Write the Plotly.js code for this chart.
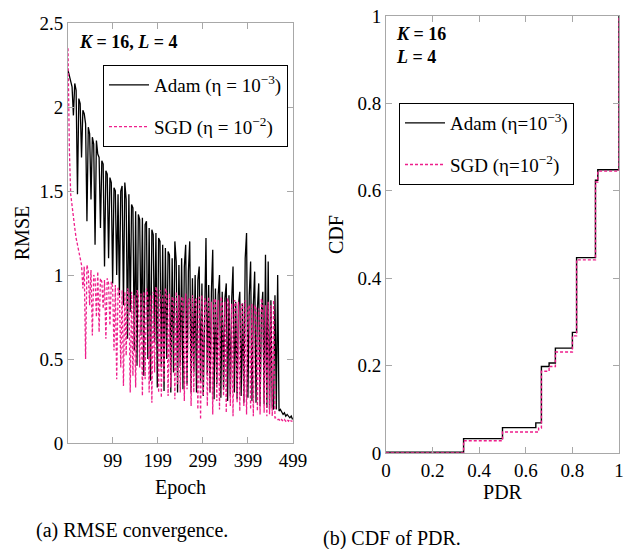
<!DOCTYPE html>
<html><head><meta charset="utf-8">
<script src="https://cdn.plot.ly/plotly-3.0.1.min.js"></script>
<style>html,body{margin:0;padding:0;background:#fff}</style>
</head><body><div id="chart" style="width:632px;height:549px"></div>
<script>
// ---- Data ----
// RMSE sampled every 3 epochs, starting at epoch 0
const epochStart = 0;
const epochStep = 3;
const adamRmse = [
  2.22,2.19,2.16,2.12,1.95,2.14,2.10,1.48,2.05,2.02,
  1.70,1.98,1.96,1.90,1.32,1.88,1.84,1.45,1.82,1.78,
  1.18,1.80,1.72,1.70,1.28,1.68,1.66,1.05,1.62,1.60,
  1.10,1.58,1.55,0.95,1.52,1.50,1.00,1.48,0.88,1.50,
  1.53,0.82,1.55,1.45,0.62,1.48,0.78,1.42,1.40,0.55,
  1.38,0.46,1.36,1.33,0.64,1.34,0.40,1.30,1.32,0.50,
  1.28,0.37,1.27,1.24,0.60,1.25,0.33,1.22,1.20,0.45,
  1.18,0.31,1.16,0.50,1.14,1.12,0.30,1.10,0.42,1.20,
  1.08,0.30,1.06,0.46,1.10,0.32,1.05,1.18,0.35,1.02,
  1.20,0.30,0.98,0.42,1.00,0.30,0.97,1.05,0.36,0.95,
  0.28,0.92,1.22,0.40,0.94,0.30,0.90,1.15,0.26,0.92,
  0.35,0.88,1.00,0.27,0.90,0.32,0.86,0.95,0.25,0.88,
  0.28,0.85,1.05,0.30,0.84,0.26,0.82,0.90,0.28,0.83,
  0.24,1.10,1.25,0.27,0.88,1.08,0.25,0.82,1.02,0.24,
  0.80,0.95,0.22,0.78,0.90,0.23,1.12,0.21,1.08,0.20,
  0.85,0.21,0.20,0.88,0.20,1.00,0.19,0.20,0.18,0.17,
  0.18,0.16,0.17,0.16,0.15,0.16,0.14];
const sgdRmse = [
  2.35,1.75,1.48,1.40,1.33,1.28,1.22,1.18,1.12,1.08,
  1.06,0.92,1.05,0.50,1.06,1.02,0.82,1.03,0.64,1.00,
  0.98,0.75,1.02,0.66,0.98,0.96,0.80,0.97,0.62,0.98,
  0.95,0.70,0.96,0.93,0.55,0.94,0.38,0.92,0.92,0.45,
  0.91,0.34,0.90,0.52,0.92,0.90,0.30,0.90,0.40,0.88,
  0.33,0.91,0.89,0.45,0.89,0.28,0.90,0.38,0.92,0.88,
  0.30,0.88,0.24,0.90,0.42,0.93,0.90,0.30,0.91,0.27,
  0.88,0.36,0.92,0.89,0.28,0.89,0.33,0.87,0.86,0.26,
  0.90,0.35,0.88,0.30,0.87,0.86,0.25,0.89,0.32,0.85,
  0.86,0.22,0.88,0.30,0.85,0.86,0.20,0.87,0.14,0.88,
  0.28,0.86,0.85,0.22,0.87,0.30,0.84,0.17,0.86,0.85,
  0.25,0.85,0.20,0.87,0.84,0.28,0.84,0.18,0.86,0.83,
  0.22,0.83,0.16,0.85,0.84,0.24,0.84,0.19,0.82,0.83,
  0.22,0.85,0.17,0.80,0.82,0.20,0.83,0.16,0.82,0.80,
  0.19,0.80,0.17,0.86,0.82,0.18,0.82,0.16,0.84,0.17,
  0.82,0.16,0.85,0.15,0.15,0.14,0.14,0.13,0.14,0.13,
  0.14,0.13,0.14,0.13,0.14,0.13,0.13];
const epochTicks = [99,199,299,399,499];
const rmseTicks = [0,0.5,1,1.5,2,2.5];

// CDF of PDR (step points)
const adamPdr = [0,0.333,0.5,0.643,0.667,0.70,0.727,0.80,0.818,0.899,0.909,1.0];
const adamCdf = [0.002,0.033,0.058,0.069,0.198,0.206,0.240,0.276,0.447,0.624,0.648,1.0];
const sgdPdr  = [0,0.333,0.5,0.655,0.667,0.70,0.727,0.80,0.818,0.899,0.909,1.0];
const sgdCdf  = [0.0,0.028,0.048,0.057,0.187,0.198,0.231,0.268,0.442,0.620,0.645,1.0];
const pdrTicks = [0,0.2,0.4,0.6,0.8,1];
const cdfTicks = [0,0.2,0.4,0.6,0.8,1];

// ---- Styling ----
const W = 632, H = 549;
const FONT = '"Liberation Serif", "Times New Roman", serif';
const BLACK = '#000000';
const PINK = '#ee1f8c';
const AXC = '#a8a8a8';
const px = v => v / W;
const py = v => 1 - v / H;

const traces = [
  {x0: epochStart, dx: epochStep, y: adamRmse, type: 'scatter', mode: 'lines',
   name: 'Adam (η = 10<sup>−3</sup>)', legend: 'legend', legendgroup: 'a1',
   line: {color: BLACK, width: 1.3}, xaxis: 'x', yaxis: 'y'},
  {x0: epochStart, dx: epochStep, y: sgdRmse, type: 'scatter', mode: 'lines',
   name: 'SGD (η = 10<sup>−2</sup>)', legend: 'legend', legendgroup: 'a2',
   line: {color: PINK, width: 1.3, dash: '3px,2px'}, xaxis: 'x', yaxis: 'y'},
  {x: adamPdr, y: adamCdf, type: 'scatter', mode: 'lines',
   name: 'Adam (η=10<sup>−3</sup>)', legend: 'legend2', legendgroup: 'b1',
   line: {color: BLACK, width: 1.4, shape: 'hv'}, xaxis: 'x2', yaxis: 'y2'},
  {x: sgdPdr, y: sgdCdf, type: 'scatter', mode: 'lines',
   name: 'SGD (η=10<sup>−2</sup>)', legend: 'legend2', legendgroup: 'b2',
   line: {color: PINK, width: 1.4, shape: 'hv', dash: '3px,2px'}, xaxis: 'x2', yaxis: 'y2'}
];

const axisCommon = {
  showline: true, linecolor: AXC, linewidth: 1, mirror: 'allticks',
  ticks: 'inside', ticklen: 6, tickcolor: AXC, tickwidth: 1,
  showgrid: false, zeroline: false, fixedrange: true,
  tickfont: {family: FONT, size: 19, color: '#000'}
};

const legendCommon = {
  xanchor: 'left', yanchor: 'top', bgcolor: '#ffffff',
  bordercolor: '#000000', borderwidth: 1,
  font: {family: FONT, size: 19, color: '#000'},
  traceorder: 'grouped', tracegroupgap: 14, itemwidth: 40
};

const layout = {
  width: W, height: H, margin: {l: 0, r: 0, t: 0, b: 0},
  paper_bgcolor: '#fff', plot_bgcolor: '#fff', showlegend: true,
  font: {family: FONT, size: 19, color: '#000'},
  xaxis: Object.assign({}, axisCommon, {domain: [px(68), px(293)], range: [0, 499],
    tickvals: epochTicks, ticktext: epochTicks.map(String), anchor: 'y',
    title: {text: 'Epoch', font: {family: FONT, size: 20}, standoff: 10}}),
  yaxis: Object.assign({}, axisCommon, {domain: [py(443), py(23)], range: [0, 2.5],
    tickvals: rmseTicks, ticktext: rmseTicks.map(String), anchor: 'x',
    title: {text: 'RMSE', font: {family: FONT, size: 20}, standoff: 4}}),
  xaxis2: Object.assign({}, axisCommon, {domain: [px(386), px(619)], range: [0, 1],
    tickvals: pdrTicks, ticktext: pdrTicks.map(String), anchor: 'y2',
    title: {text: 'PDR', font: {family: FONT, size: 20}, standoff: 4}}),
  yaxis2: Object.assign({}, axisCommon, {domain: [py(453), py(16)], range: [0, 1],
    tickvals: cdfTicks, ticktext: cdfTicks.map(String), anchor: 'x2',
    title: {text: 'CDF', font: {family: FONT, size: 20}, standoff: 8}}),
  legend: Object.assign({}, legendCommon, {x: px(103), y: py(65)}),
  legend2: Object.assign({}, legendCommon, {x: px(399), y: py(103)}),
  annotations: [
    {text: '<b><i>K</i> = 16, <i>L</i> = 4</b>', xref: 'paper', yref: 'paper',
     x: px(77), y: py(42), xanchor: 'left', yanchor: 'middle', showarrow: false,
     font: {family: FONT, size: 18, color: '#000'}},
    {text: '<b><i>K</i> = 16</b>', xref: 'paper', yref: 'paper',
     x: px(394), y: py(34), xanchor: 'left', yanchor: 'middle', showarrow: false,
     font: {family: FONT, size: 18, color: '#000'}},
    {text: '<b><i>L</i> = 4</b>', xref: 'paper', yref: 'paper',
     x: px(394), y: py(57), xanchor: 'left', yanchor: 'middle', showarrow: false,
     font: {family: FONT, size: 18, color: '#000'}},
    {text: '(a) RMSE convergence.', xref: 'paper', yref: 'paper',
     x: px(132), y: py(530), xanchor: 'center', yanchor: 'middle', showarrow: false,
     font: {family: FONT, size: 20, color: '#000'}},
    {text: '(b) CDF of PDR.', xref: 'paper', yref: 'paper',
     x: px(392), y: py(538), xanchor: 'center', yanchor: 'middle', showarrow: false,
     font: {family: FONT, size: 20, color: '#000'}}
  ]
};

Plotly.newPlot('chart', traces, layout, {staticPlot: true, displayModeBar: false});
</script>
</body></html>
